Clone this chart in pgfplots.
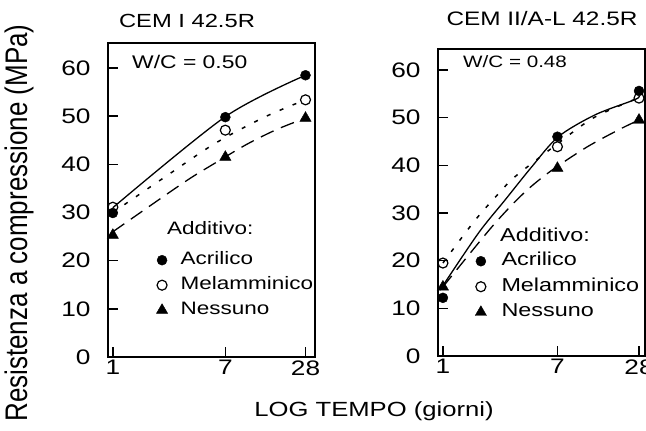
\documentclass[border=0pt]{standalone}
\usepackage{fontspec}
\setmainfont{Liberation Sans}[FakeStretch=1.25]
\newfontfamily\plainsans{Liberation Sans}
\usepackage{pgfplots}
\pgfplotsset{compat=1.18}

\tikzset{
  acrline/.style={black, smooth, line width=1.3pt},
  melline/.style={black, smooth, line width=1.5pt, dash pattern=on 4pt off 10pt},
  nesline/.style={black, smooth, line width=1.3pt, dash pattern=on 14pt off 8pt},
  acr/.style={black, only marks, mark=*, mark size=5pt},
  mel/.style={black, only marks, mark=o, mark size=5pt, mark options={fill=white, line width=1.2pt}},
  nes/.style={black, only marks, mark=triangle*, mark size=6.5pt},
}
\pgfplotsset{
  every axis/.append style={
    scale only axis,
    xmin=0.92, ymin=0,
    xtick={1,7,28}, xticklabels={1,7,28},
    ytick={0,10,20,30,40,50,60},
    tick align=inside, xtick pos=bottom, ytick pos=left,
    major tick length=10pt,
    axis line style={line width=1.2pt},
    tick style={line width=1.5pt, black},
    tick label style={font=\fontsize{21}{24}\selectfont},
    yticklabel style={xshift=-14pt},
    legend cell align=left,
  },
  legend image code/.code={\draw[#1] plot coordinates {(0pt,0pt)};},
}

\begin{document}
\begin{tikzpicture}
\useasboundingbox (0pt,0pt) rectangle (646pt,431pt);

% pannello sinistro: CEM I 42.5R
\begin{semilogxaxis}[
  at={(108pt,74pt)}, anchor=south west,
  width=207pt, height=314pt, xmax=33, ymax=65.2,
  /pgf/number format/assume math mode=true,
  legend style={at={(axis description cs:0.233,0.336)}, anchor=north west,
    draw=none, fill=none, inner sep=0pt,
    font=\fontsize{18}{22}\selectfont,
    nodes={inner sep=0pt, text height=13pt, text depth=4pt},
    row sep=8pt, column sep=13pt},
]
% curve interpolanti
\addplot[acrline, forget plot] coordinates {(1,31.0) (7,49.9) (28,58.5)};
\addplot[melline, forget plot] coordinates {(1,30.0) (2.47,37.4) (5.9,44.4) (14,49.9) (28,53.4)};
\addplot[nesline, forget plot] coordinates {(1,26.0) (3.4,36.2) (5.73,40.1) (10.2,44.2) (17.2,47.3) (28,49.6)};
% dati misurati
\addplot[acr] coordinates {(1,29.9) (7,49.8) (28,58.5)};
\addlegendentry{Acrilico}
\addplot[mel] coordinates {(1,31.1) (7,47.1) (28,53.4)};
\addlegendentry{Melamminico}
\addplot[nes] coordinates {(1,25.3) (7,41.5) (28,49.6)};
\addlegendentry{Nessuno}
\draw[line width=2.4pt] (rel axis cs:0,1) -- (rel axis cs:0,0) -- (rel axis cs:1,0);
\end{semilogxaxis}

% pannello destro: CEM II/A-L 42.5R
\begin{semilogxaxis}[
  at={(438pt,75pt)}, anchor=south west,
  width=207pt, height=307pt, xmax=31, ymax=64.4,
  /pgf/number format/assume math mode=true,
  legend style={at={(axis description cs:0.179,0.337)}, anchor=north west,
    draw=none, fill=none, inner sep=0pt,
    font=\fontsize{18.7}{22}\selectfont,
    nodes={inner sep=0pt, text height=13pt, text depth=4pt},
    row sep=8.5pt, column sep=15pt},
]
% curve interpolanti
\addplot[acrline, forget plot] coordinates {(0.95,13.8) (1.82,25.7) (2.87,32.7) (4.53,39.7) (7.11,46.0) (13.3,50.6) (26.2,53.8) (28,54.6)};
\addplot[melline, forget plot] coordinates {(1,19.5) (1.73,28.5) (2.72,34.8) (3.4,37.6) (7,44.5) (13,50.0) (28,54.2)};
\addplot[nesline, forget plot] coordinates {(1,14.5) (2.3,27.1) (3.93,34.1) (6.18,38.7) (11.5,43.8) (20.3,47.6) (28,49.5)};
% dati misurati
\addplot[acr] coordinates {(1,12.2) (7,46.0) (28,55.6)};
\addlegendentry{Acrilico}
\addplot[mel] coordinates {(1,19.5) (7,43.9) (28,54.1)};
\addlegendentry{Melamminico}
\addplot[nes] coordinates {(1,14.5) (7,39.4) (28,49.5)};
\addlegendentry{Nessuno}
\draw[line width=2.4pt] (rel axis cs:0,1) -- (rel axis cs:0,0) -- (rel axis cs:1,0);
\end{semilogxaxis}

% titoli e testi
\node[inner sep=0pt] at (187pt,410pt) {\fontsize{19}{22}\selectfont CEM I 42.5R};
\node[inner sep=0pt] at (542pt,412pt) {\fontsize{19.5}{22}\selectfont CEM II/A-L 42.5R};
\node[anchor=west, inner sep=0pt] at (132pt,369pt) {\fontsize{18.3}{22}\selectfont W/C = 0.50};
\node[anchor=west, inner sep=0pt] at (463pt,369pt) {\fontsize{16.5}{20}\selectfont W/C = 0.48};
\node[anchor=west, inner sep=0pt] at (167pt,203pt) {\fontsize{18}{22}\selectfont Additivo:};
\node[anchor=west, inner sep=0pt] at (500pt,196pt) {\fontsize{18.7}{22}\selectfont Additivo:};
\node[anchor=base, inner sep=0pt] at (374pt,14pt) {\fontsize{20.5}{24}\selectfont LOG TEMPO (giorni)};
\node[rotate=90, anchor=base, inner sep=0pt] at (27pt,208pt)
  {\scalebox{1}[1.2]{\plainsans\fontsize{26}{30}\selectfont Resistenza a compressione (MPa)}};
\end{tikzpicture}
\end{document}
